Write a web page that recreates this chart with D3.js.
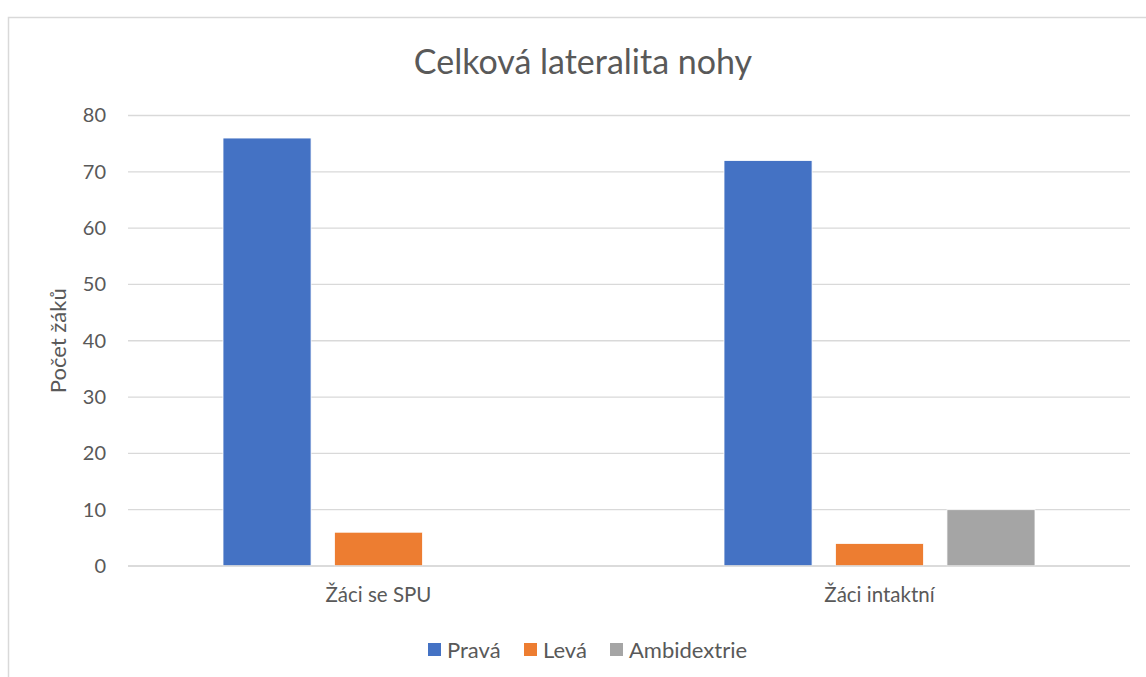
<!DOCTYPE html>
<html>
<head>
<meta charset="utf-8">
<script src="https://cdn.jsdelivr.net/npm/d3@7"></script>
<style>
  html, body { margin: 0; padding: 0; background: #fff; }
  svg { display: block; font-family: Lato, "Open Sans", sans-serif; }
</style>
</head>
<body>
<svg id="chart" width="1146" height="677"></svg>
<script>
// Foot laterality counts per pupil group
const categories = ["Žáci se SPU", "Žáci intaktní"];
const seriesNames = ["Pravá", "Levá", "Ambidextrie"];
const pravaValues = [76, 72];
const levaValues = [6, 4];
const ambidextrieValues = [0, 10];
const yTicks = [0, 10, 20, 30, 40, 50, 60, 70, 80];
const colors = ["#4472C4", "#ED7D31", "#A5A5A5"];

const seriesValues = [pravaValues, levaValues, ambidextrieValues];
const rows = categories.map((c, i) => ({
  category: c,
  values: seriesNames.map((s, j) => ({ series: s, value: seriesValues[j][i] }))
}));

const svg = d3.select("#chart");
const plot = { left: 128, right: 1130, top: 115.5, bottom: 566 };
const textColor = "#595959";

// outer chart frame
svg.append("rect")
  .attr("x", 8.5).attr("y", 17.5)
  .attr("width", 1160).attr("height", 700)
  .attr("fill", "none").attr("stroke", "#D9D9D9").attr("stroke-width", 1.5);

const x = d3.scaleBand().domain(categories).range([plot.left, plot.right]).padding(0);
const groupWidth = 311;
const xInner = d3.scaleBand().domain(seriesNames)
  .range([0, groupWidth]).paddingInner(0.21).paddingOuter(0);
const y = d3.scaleLinear().domain([0, 80]).range([plot.bottom, plot.top]);

// gridlines
svg.append("g")
  .selectAll("line")
  .data(yTicks)
  .join("line")
  .attr("x1", plot.left).attr("x2", plot.right)
  .attr("y1", d => y(d)).attr("y2", d => y(d))
  .attr("stroke", "#D9D9D9").attr("stroke-width", 1.3);

// y tick labels
const yAxis = d3.axisLeft(y).tickValues(yTicks).tickSize(0).tickPadding(0);
const gy = svg.append("g").attr("transform", `translate(${plot.left - 22},0)`).call(yAxis);
gy.select(".domain").remove();
gy.selectAll("text")
  .attr("font-size", 20).attr("fill", textColor)
  .attr("font-family", "Lato, sans-serif");

// bars
const groups = svg.append("g")
  .selectAll("g")
  .data(rows)
  .join("g")
  .attr("transform", d => `translate(${x(d.category) + (x.bandwidth() - groupWidth) / 2},0)`);

groups.selectAll("rect")
  .data(d => d.values)
  .join("rect")
  .attr("x", d => xInner(d.series))
  .attr("width", xInner.bandwidth())
  .attr("y", d => y(d.value))
  .attr("height", d => y(0) - y(d.value))
  .attr("fill", (d, i) => colors[i])
  .attr("stroke", "#fff").attr("stroke-width", 0.8);

// zero baseline over the bars
svg.append("line")
  .attr("x1", plot.left).attr("x2", plot.right)
  .attr("y1", y(0)).attr("y2", y(0))
  .attr("stroke", "#D9D9D9").attr("stroke-width", 1.3);

// category labels
const xAxis = d3.axisBottom(x).tickSize(0).tickPadding(0);
const gx = svg.append("g").attr("transform", `translate(0,${plot.bottom + 36})`).call(xAxis);
gx.select(".domain").remove();
gx.selectAll("text")
  .attr("dy", 0)
  .attr("font-size", 20.5).attr("fill", textColor)
  .attr("font-family", "Lato, sans-serif");

// title
svg.append("text")
  .attr("x", 583).attr("y", 74)
  .attr("text-anchor", "middle")
  .attr("font-size", 34).attr("fill", textColor)
  .text("Celková lateralita nohy");

// y axis title
svg.append("text")
  .attr("transform", `translate(66,${(plot.top + plot.bottom) / 2}) rotate(-90)`)
  .attr("text-anchor", "middle")
  .attr("font-size", 22).attr("fill", textColor)
  .text("Počet žáků");

// legend
const legendX = [428, 524, 610];
const legend = svg.append("g")
  .selectAll("g")
  .data(seriesNames)
  .join("g")
  .attr("transform", (d, i) => `translate(${legendX[i]},643)`);
legend.append("rect")
  .attr("width", 13).attr("height", 13)
  .attr("fill", (d, i) => colors[i]);
legend.append("text")
  .attr("x", 19).attr("y", 14.5)
  .attr("font-size", 22).attr("fill", textColor)
  .text(d => d);
</script>
</body>
</html>
